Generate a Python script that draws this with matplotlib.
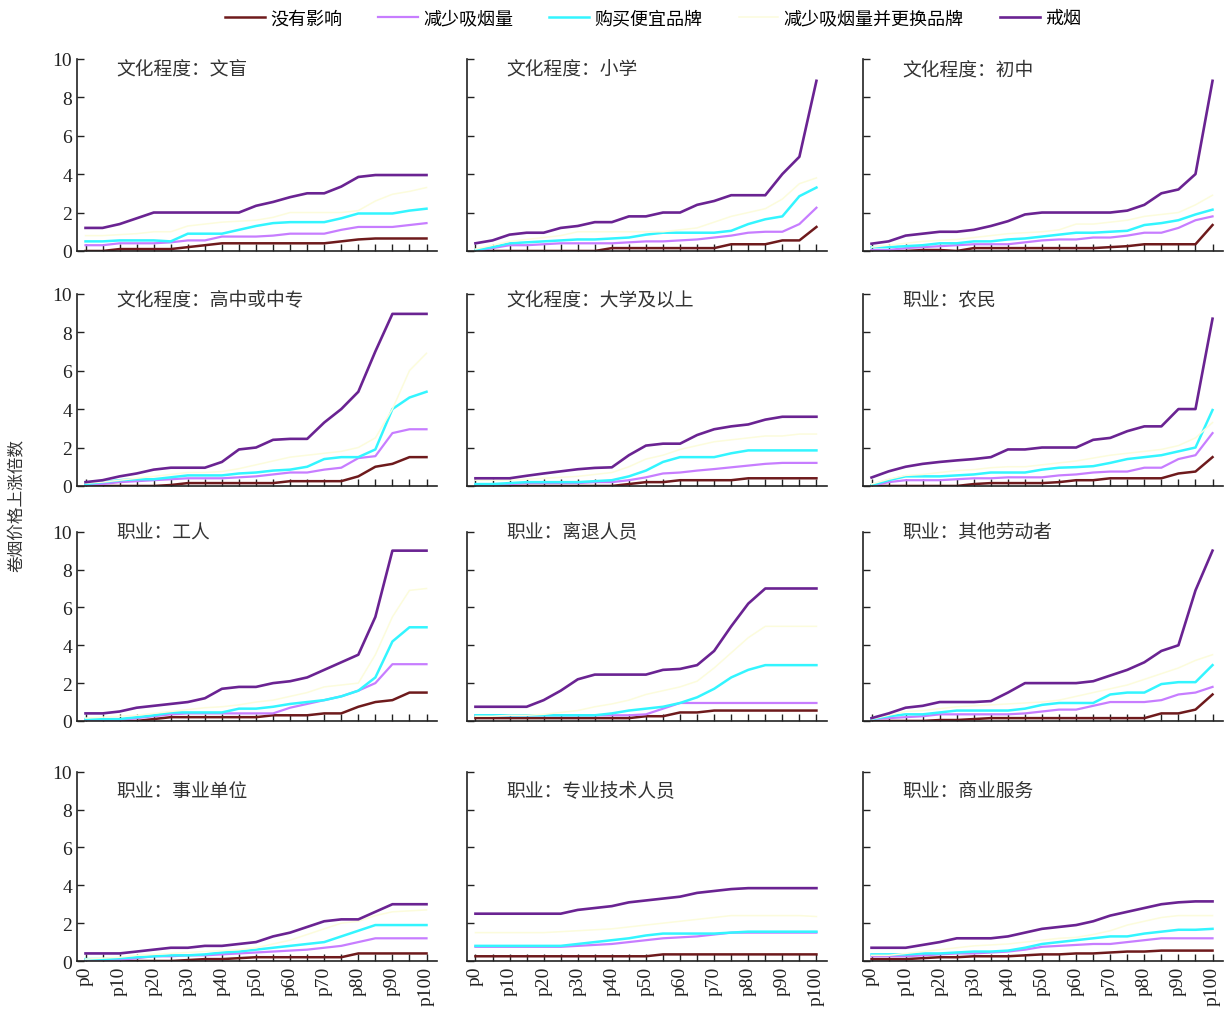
import matplotlib.pyplot as plt
import numpy as np

plt.rcParams['font.family'] = ['Noto Sans CJK SC', 'DejaVu Sans']

# percentiles p0, p5, ..., p100
pct = ['p%d' % p for p in range(0, 101, 5)]

series_names = ['没有影响', '减少吸烟量', '购买便宜品牌', '减少吸烟量并更换品牌', '戒烟']
colors = ['#6e1a1c', '#c77dff', '#33f5ff', '#fcfcdc', '#6a2392']
widths = [1.8, 1.6, 1.8, 1.1, 1.9]

titles = ['文化程度：文盲', '文化程度：小学', '文化程度：初中',
          '文化程度：高中或中专', '文化程度：大学及以上', '职业：农民',
          '职业：工人', '职业：离退人员', '职业：其他劳动者',
          '职业：事业单位', '职业：专业技术人员', '职业：商业服务']

# order inside each panel: 没有影响, 减少吸烟量, 购买便宜品牌, 减少吸烟量并更换品牌, 戒烟
wenmang = [
    [0, 0, 0.1, 0.1, 0.1, 0.1, 0.2, 0.3, 0.4, 0.4, 0.4, 0.4, 0.4, 0.4, 0.4, 0.5, 0.6, 0.65, 0.65, 0.65, 0.65],
    [0.3, 0.3, 0.4, 0.4, 0.4, 0.45, 0.55, 0.55, 0.75, 0.75, 0.75, 0.8, 0.9, 0.9, 0.9, 1.1, 1.25, 1.25, 1.25, 1.35, 1.45],
    [0.5, 0.5, 0.55, 0.55, 0.55, 0.5, 0.9, 0.9, 0.9, 1.1, 1.3, 1.45, 1.5, 1.5, 1.5, 1.7, 1.95, 1.95, 1.95, 2.1, 2.2],
    [0.8, 0.8, 0.85, 0.9, 1.0, 1.0, 1.3, 1.4, 1.5, 1.55, 1.6, 1.75, 2.0, 2.0, 2.0, 2.0, 2.1, 2.6, 2.95, 3.1, 3.3],
    [1.2, 1.2, 1.4, 1.7, 2.0, 2.0, 2.0, 2.0, 2.0, 2.0, 2.35, 2.55, 2.8, 3.0, 3.0, 3.35, 3.85, 3.95, 3.95, 3.95, 3.95],
]
xiaoxue = [
    [0, 0, 0, 0, 0, 0, 0, 0, 0.15, 0.15, 0.15, 0.15, 0.15, 0.15, 0.15, 0.35, 0.35, 0.35, 0.55, 0.55, 1.25],
    [0, 0.15, 0.3, 0.3, 0.35, 0.4, 0.4, 0.4, 0.4, 0.45, 0.5, 0.5, 0.55, 0.6, 0.7, 0.8, 0.95, 1.0, 1.0, 1.4, 2.25],
    [0.05, 0.2, 0.4, 0.45, 0.5, 0.55, 0.6, 0.6, 0.65, 0.7, 0.85, 0.95, 0.95, 0.95, 0.95, 1.05, 1.4, 1.65, 1.8, 2.85, 3.3],
    [0.1, 0.3, 0.5, 0.6, 0.7, 0.8, 1.0, 1.0, 1.0, 1.0, 1.0, 1.0, 1.1, 1.2, 1.5, 1.8, 2.0, 2.2, 2.7, 3.5, 3.8],
    [0.4, 0.55, 0.85, 0.95, 0.95, 1.2, 1.3, 1.5, 1.5, 1.8, 1.8, 2.0, 2.0, 2.4, 2.6, 2.9, 2.9, 2.9, 4.0, 4.9, 8.85],
]
chuzhong = [
    [0, 0, 0, 0.05, 0.05, 0, 0.15, 0.15, 0.15, 0.15, 0.15, 0.15, 0.15, 0.15, 0.2, 0.25, 0.35, 0.35, 0.35, 0.35, 1.35],
    [0.05, 0.05, 0.15, 0.2, 0.25, 0.3, 0.35, 0.35, 0.35, 0.45, 0.55, 0.6, 0.6, 0.7, 0.7, 0.8, 0.95, 0.95, 1.2, 1.6, 1.8],
    [0.2, 0.2, 0.25, 0.3, 0.4, 0.4, 0.5, 0.5, 0.6, 0.65, 0.75, 0.85, 0.95, 0.95, 1.0, 1.05, 1.35, 1.45, 1.6, 1.9, 2.15],
    [0.2, 0.3, 0.4, 0.5, 0.55, 0.6, 0.7, 0.8, 0.9, 0.95, 1.0, 1.1, 1.4, 1.4, 1.5, 1.6, 1.8, 1.9, 2.0, 2.4, 2.9],
    [0.38, 0.5, 0.8, 0.9, 1.0, 1.0, 1.1, 1.3, 1.55, 1.9, 2.0, 2.0, 2.0, 2.0, 2.0, 2.1, 2.4, 3.0, 3.2, 4.0, 8.85],
]
gaozhong = [
    [0, 0, 0, 0, 0, 0.05, 0.15, 0.15, 0.15, 0.15, 0.15, 0.15, 0.25, 0.25, 0.25, 0.25, 0.5, 1.0, 1.15, 1.5, 1.5],
    [0.05, 0.1, 0.2, 0.25, 0.3, 0.35, 0.4, 0.4, 0.4, 0.45, 0.5, 0.6, 0.7, 0.7, 0.85, 0.95, 1.45, 1.55, 2.75, 2.95, 2.95],
    [0.1, 0.2, 0.3, 0.35, 0.35, 0.45, 0.55, 0.55, 0.55, 0.65, 0.7, 0.8, 0.85, 1.0, 1.4, 1.5, 1.5, 1.9, 4.0, 4.6, 4.9],
    [0.15, 0.2, 0.3, 0.4, 0.5, 0.6, 0.7, 0.7, 0.75, 0.9, 1.1, 1.3, 1.5, 1.6, 1.7, 1.8, 2.0, 2.5, 4.0, 6.0, 6.9],
    [0.2, 0.3, 0.5, 0.65, 0.85, 0.95, 0.95, 0.95, 1.25, 1.9, 2.0, 2.4, 2.45, 2.45, 3.3, 4.0, 4.9, 7.0, 8.95, 8.95, 8.95],
]
daxue = [
    [0, 0, 0, 0, 0, 0, 0, 0, 0, 0.1, 0.2, 0.2, 0.3, 0.3, 0.3, 0.3, 0.4, 0.4, 0.4, 0.4, 0.4],
    [0.05, 0.05, 0.1, 0.15, 0.15, 0.15, 0.15, 0.2, 0.2, 0.3, 0.45, 0.65, 0.7, 0.8, 0.88, 0.97, 1.06, 1.15, 1.2, 1.2, 1.2],
    [0.1, 0.1, 0.15, 0.2, 0.2, 0.2, 0.2, 0.25, 0.3, 0.5, 0.8, 1.25, 1.5, 1.5, 1.5, 1.7, 1.85, 1.85, 1.85, 1.85, 1.85],
    [0.3, 0.3, 0.3, 0.35, 0.4, 0.45, 0.5, 0.6, 0.7, 1.0, 1.4, 1.6, 1.9, 2.1, 2.3, 2.4, 2.5, 2.6, 2.6, 2.7, 2.7],
    [0.4, 0.4, 0.4, 0.53, 0.65, 0.76, 0.87, 0.94, 0.97, 1.6, 2.1, 2.2, 2.2, 2.65, 2.95, 3.1, 3.2, 3.45, 3.6, 3.6, 3.6],
]
nongmin = [
    [0, 0, 0, 0, 0, 0, 0.1, 0.15, 0.15, 0.15, 0.15, 0.2, 0.3, 0.3, 0.4, 0.4, 0.4, 0.4, 0.65, 0.75, 1.5],
    [0, 0.2, 0.3, 0.3, 0.3, 0.35, 0.4, 0.4, 0.45, 0.45, 0.45, 0.55, 0.6, 0.7, 0.75, 0.75, 0.95, 0.95, 1.4, 1.6, 2.75],
    [0.05, 0.3, 0.5, 0.5, 0.5, 0.55, 0.6, 0.7, 0.7, 0.7, 0.85, 0.95, 0.98, 1.03, 1.2, 1.4, 1.5, 1.6, 1.8, 2.0, 3.95],
    [0.1, 0.35, 0.55, 0.6, 0.7, 0.8, 0.85, 0.95, 1.0, 1.0, 1.1, 1.2, 1.3, 1.45, 1.6, 1.7, 1.8, 1.9, 2.1, 2.5, 3.3],
    [0.44, 0.76, 1.0, 1.15, 1.25, 1.33, 1.4, 1.5, 1.9, 1.9, 2.0, 2.0, 2.0, 2.4, 2.5, 2.85, 3.1, 3.1, 4.0, 4.0, 8.7],
]
gongren = [
    [0, 0, 0, 0, 0.1, 0.2, 0.2, 0.2, 0.2, 0.2, 0.2, 0.3, 0.3, 0.3, 0.4, 0.4, 0.75, 1.0, 1.1, 1.5, 1.5],
    [0.05, 0.05, 0.05, 0.15, 0.25, 0.35, 0.4, 0.4, 0.4, 0.4, 0.4, 0.4, 0.7, 0.9, 1.1, 1.3, 1.6, 2.0, 3.0, 3.0, 3.0],
    [0.1, 0.1, 0.1, 0.2, 0.3, 0.45, 0.45, 0.45, 0.45, 0.65, 0.65, 0.75, 0.9, 1.0, 1.1, 1.3, 1.6, 2.3, 4.2, 4.95, 4.95],
    [0.15, 0.2, 0.25, 0.3, 0.4, 0.5, 0.6, 0.7, 0.75, 0.85, 1.0, 1.1, 1.3, 1.5, 1.8, 1.9, 2.0, 3.5, 5.5, 6.9, 7.0],
    [0.4, 0.4, 0.5, 0.7, 0.8, 0.9, 1.0, 1.2, 1.7, 1.8, 1.8, 2.0, 2.1, 2.3, 2.7, 3.1, 3.5, 5.5, 9.0, 9.0, 9.0],
]
lituixiu = [
    [0.15, 0.15, 0.15, 0.15, 0.15, 0.15, 0.15, 0.15, 0.15, 0.15, 0.25, 0.25, 0.45, 0.45, 0.55, 0.55, 0.55, 0.55, 0.55, 0.55, 0.55],
    [0.3, 0.3, 0.3, 0.3, 0.3, 0.3, 0.3, 0.3, 0.3, 0.3, 0.35, 0.65, 0.95, 0.95, 0.95, 0.95, 0.95, 0.95, 0.95, 0.95, 0.95],
    [0.3, 0.3, 0.3, 0.3, 0.3, 0.3, 0.3, 0.3, 0.4, 0.55, 0.65, 0.75, 0.95, 1.25, 1.7, 2.3, 2.7, 2.95, 2.95, 2.95, 2.95],
    [0.25, 0.25, 0.3, 0.3, 0.35, 0.45, 0.55, 0.75, 0.9, 1.1, 1.4, 1.6, 1.8, 2.1, 2.8, 3.6, 4.4, 5.0, 5.0, 5.0, 5.0],
    [0.75, 0.75, 0.75, 0.75, 1.1, 1.6, 2.2, 2.45, 2.45, 2.45, 2.45, 2.7, 2.75, 2.95, 3.7, 5.0, 6.2, 7.0, 7.0, 7.0, 7.0],
]
qita = [
    [0, 0, 0, 0, 0.05, 0.05, 0.1, 0.15, 0.15, 0.15, 0.15, 0.15, 0.15, 0.15, 0.15, 0.15, 0.15, 0.4, 0.4, 0.6, 1.4],
    [0.1, 0.15, 0.2, 0.25, 0.35, 0.35, 0.35, 0.35, 0.35, 0.4, 0.5, 0.6, 0.6, 0.8, 1.0, 1.0, 1.0, 1.1, 1.4, 1.5, 1.8],
    [0.1, 0.25, 0.35, 0.35, 0.45, 0.55, 0.55, 0.55, 0.55, 0.65, 0.85, 0.95, 0.95, 0.95, 1.4, 1.5, 1.5, 1.95, 2.05, 2.05, 2.95],
    [0.1, 0.3, 0.5, 0.55, 0.65, 0.75, 0.8, 0.85, 0.9, 0.95, 1.0, 1.1, 1.3, 1.5, 1.7, 1.9, 2.2, 2.5, 2.8, 3.2, 3.5],
    [0.15, 0.4, 0.7, 0.8, 1.0, 1.0, 1.0, 1.05, 1.5, 2.0, 2.0, 2.0, 2.0, 2.1, 2.4, 2.7, 3.1, 3.7, 4.0, 6.9, 9.0],
]
shiye = [
    [0, 0, 0, 0, 0, 0, 0.05, 0.1, 0.1, 0.15, 0.2, 0.2, 0.2, 0.2, 0.2, 0.2, 0.4, 0.4, 0.4, 0.4, 0.4],
    [0.05, 0.05, 0.05, 0.15, 0.25, 0.25, 0.3, 0.3, 0.35, 0.4, 0.45, 0.5, 0.55, 0.6, 0.7, 0.8, 1.0, 1.2, 1.2, 1.2, 1.2],
    [0.1, 0.1, 0.15, 0.2, 0.25, 0.3, 0.3, 0.35, 0.45, 0.5, 0.6, 0.7, 0.8, 0.9, 1.0, 1.3, 1.6, 1.9, 1.9, 1.9, 1.9],
    [0.1, 0.15, 0.2, 0.3, 0.35, 0.4, 0.45, 0.5, 0.55, 0.6, 0.7, 0.9, 1.1, 1.4, 1.7, 2.0, 2.1, 2.4, 2.6, 2.65, 2.7],
    [0.4, 0.4, 0.4, 0.5, 0.6, 0.7, 0.7, 0.8, 0.8, 0.9, 1.0, 1.3, 1.5, 1.8, 2.1, 2.2, 2.2, 2.6, 3.0, 3.0, 3.0],
]
zhuanye = [
    [0.25, 0.25, 0.25, 0.25, 0.25, 0.25, 0.25, 0.25, 0.25, 0.25, 0.25, 0.35, 0.35, 0.35, 0.35, 0.35, 0.35, 0.35, 0.35, 0.35, 0.35],
    [0.75, 0.75, 0.75, 0.75, 0.75, 0.75, 0.8, 0.85, 0.9, 1.0, 1.1, 1.2, 1.25, 1.3, 1.4, 1.5, 1.5, 1.5, 1.5, 1.5, 1.5],
    [0.8, 0.8, 0.8, 0.8, 0.8, 0.8, 0.9, 1.0, 1.1, 1.2, 1.35, 1.45, 1.45, 1.45, 1.45, 1.5, 1.55, 1.55, 1.55, 1.55, 1.55],
    [1.5, 1.5, 1.5, 1.5, 1.5, 1.55, 1.6, 1.65, 1.7, 1.8, 1.9, 2.0, 2.1, 2.2, 2.3, 2.4, 2.4, 2.4, 2.4, 2.4, 2.35],
    [2.5, 2.5, 2.5, 2.5, 2.5, 2.5, 2.7, 2.8, 2.9, 3.1, 3.2, 3.3, 3.4, 3.6, 3.7, 3.8, 3.85, 3.85, 3.85, 3.85, 3.85],
]
shangye = [
    [0.1, 0.1, 0.1, 0.15, 0.2, 0.2, 0.25, 0.25, 0.25, 0.3, 0.35, 0.35, 0.4, 0.4, 0.45, 0.5, 0.5, 0.55, 0.55, 0.55, 0.55],
    [0.25, 0.25, 0.25, 0.3, 0.35, 0.4, 0.4, 0.45, 0.5, 0.6, 0.75, 0.8, 0.85, 0.9, 0.9, 1.0, 1.1, 1.2, 1.2, 1.2, 1.2],
    [0.35, 0.35, 0.35, 0.4, 0.4, 0.45, 0.5, 0.5, 0.55, 0.7, 0.9, 1.0, 1.1, 1.2, 1.3, 1.3, 1.45, 1.55, 1.65, 1.65, 1.7],
    [0.3, 0.3, 0.4, 0.5, 0.6, 0.7, 0.8, 0.85, 0.9, 1.0, 1.1, 1.2, 1.25, 1.4, 1.6, 1.9, 2.1, 2.3, 2.4, 2.4, 2.4],
    [0.7, 0.7, 0.7, 0.85, 1.0, 1.2, 1.2, 1.2, 1.3, 1.5, 1.7, 1.8, 1.9, 2.1, 2.4, 2.6, 2.8, 3.0, 3.1, 3.15, 3.15],
]

panels = [wenmang, xiaoxue, chuzhong, gaozhong, daxue, nongmin,
          gongren, lituixiu, qita, shiye, zhuanye, shangye]

fig = plt.figure(figsize=(12.32, 10.12), dpi=100)

col_left = [0.0625, 0.379, 0.7005]
col_w = 0.292
row_bottom = [0.751, 0.5188, 0.2866, 0.0494]
row_h = [0.19, 0.19, 0.187, 0.187]
title_y = [0.945, 0.97, 1.0, 0.9]

x = np.arange(len(pct))
serif = 'Liberation Serif'

for i, (title, data) in enumerate(zip(titles, panels)):
    r, c = divmod(i, 3)
    ax = fig.add_axes([col_left[c], row_bottom[r], col_w, row_h[r]])
    for vals, col, lw, name in zip(data, colors, widths, series_names):
        ax.plot(x, vals, color=col, lw=lw, label=name)
    ax.set_xlim(-0.5, 20.6)
    ax.set_ylim(0, 10)
    ax.set_yticks(range(0, 11, 2))
    ax.set_xticks(x)
    ax.set_xticklabels([p if k % 2 == 0 else '' for k, p in enumerate(pct)])
    ax.spines['top'].set_visible(False)
    ax.spines['right'].set_visible(False)
    for s in ('left', 'bottom'):
        ax.spines[s].set_color('#222222')
        ax.spines[s].set_linewidth(1.2)
    ax.tick_params(direction='in', length=5, width=1, colors='#222222')
    if c != 0:
        ax.set_yticklabels([])
    else:
        for t in ax.get_yticklabels():
            t.set_fontfamily(serif)
            t.set_fontsize(14)
    if r != 3:
        ax.set_xticklabels([])
    else:
        for t in ax.get_xticklabels():
            t.set_fontfamily(serif)
            t.set_fontsize(14)
            t.set_rotation(90)
    ax.text(0.11, title_y[r], title, transform=ax.transAxes, fontsize=13.5,
            color='#333333', va='center', ha='left', clip_on=False)

fig.text(0.014, 0.5, '卷烟价格上涨倍数', rotation=90, va='center', ha='center',
         fontsize=12, color='#333333')

handles = fig.axes[0].get_lines()
fig.legend(handles, series_names, loc='upper center', bbox_to_anchor=(0.53, 1.006),
           ncol=5, frameon=False, fontsize=13, handlelength=2.2, columnspacing=2.0,
           handletextpad=0.3)

plt.savefig('out.png', dpi=100)
